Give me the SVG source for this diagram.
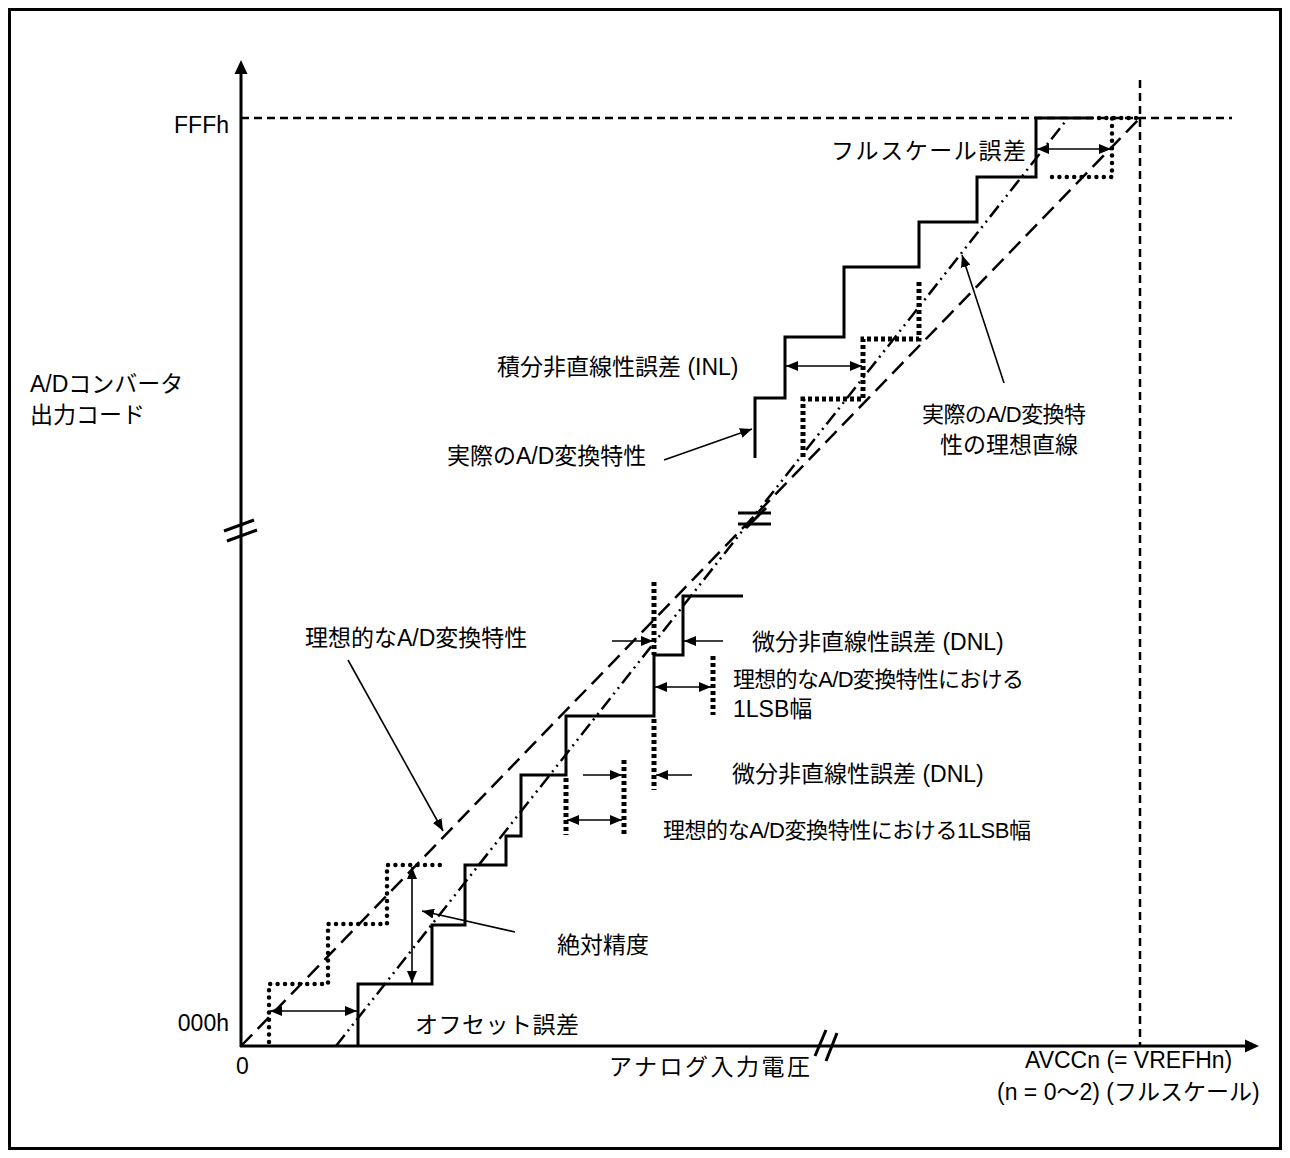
<svg xmlns="http://www.w3.org/2000/svg" width="1290" height="1158" viewBox="0 0 1290 1158">
<defs>
<style>
.t{font-family:"Liberation Sans","Noto Sans CJK JP",sans-serif;font-size:23px;fill:#000}
.s{font-size:22px}
.ax{stroke:#000;stroke-width:3;fill:none}
.st{stroke:#000;stroke-width:3;fill:none;stroke-linejoin:miter}
.rd{stroke:#000;stroke-width:4.5;fill:none;stroke-dasharray:0 7.4;stroke-linecap:round}
.sq{stroke:#000;stroke-width:5;fill:none;stroke-dasharray:4 3}
.dsh{stroke:#000;stroke-width:2.5;fill:none;stroke-dasharray:8 5}
.ideal{stroke:#000;stroke-width:2.5;fill:none;stroke-dasharray:16 8}
.dd{stroke:#000;stroke-width:2.5;fill:none;stroke-dasharray:14 5 2 5 2 5}
.ar{stroke:#000;stroke-width:1.6;fill:none}
</style>
<marker id="ah" viewBox="0 0 12 10" refX="12" refY="5" markerWidth="12" markerHeight="10" markerUnits="userSpaceOnUse" orient="auto-start-reverse">
<path d="M0,0 L12,5 L0,10 z" fill="#000"/>
</marker>
</defs>
<rect x="0" y="0" width="1290" height="1158" fill="#fff"/>
<rect id="frame" x="9.5" y="9.5" width="1271" height="1139" fill="none" stroke="#000" stroke-width="3"/>

<g id="axes">
<line class="ax" x1="241" y1="1047" x2="241" y2="72"/>
<polygon points="234.5,74 247.5,74 241,60" fill="#000"/>
<line class="ax" x1="240" y1="1046" x2="1246" y2="1046"/>
<polygon points="1245,1039.5 1245,1052.5 1259,1046" fill="#000"/>
<line x1="224" y1="531" x2="254" y2="520" stroke="#000" stroke-width="3"/>
<line x1="227" y1="541" x2="257" y2="530" stroke="#000" stroke-width="3"/>
<line x1="815" y1="1056" x2="826" y2="1030" stroke="#000" stroke-width="3"/>
<line x1="826" y1="1061" x2="837" y2="1033" stroke="#000" stroke-width="3"/>
<line class="dsh" x1="241" y1="118" x2="1232" y2="118"/>
<line class="dsh" x1="1140" y1="80" x2="1140" y2="1046"/>
</g>

<g id="reference-lines">
<line class="ideal" x1="241" y1="1046" x2="1140" y2="118"/>
<line class="dd" x1="336" y1="1046" x2="1068" y2="118"/>
<line x1="738" y1="513" x2="771" y2="513" stroke="#000" stroke-width="3"/>
<line x1="738" y1="524" x2="771" y2="524" stroke="#000" stroke-width="3"/>
<line x1="746" y1="528" x2="766" y2="508" stroke="#000" stroke-width="3"/>
</g>

<g id="actual-staircase">
<polyline class="st" points="358,1046 358,984 432,984 432,925 465,925 465,865 506,865 506,836 521,836 521,775 566,775 566,716 654,716 654,655 683,655 683,596 743,596"/>
<polyline class="st" points="755,458 755,398 785,398 785,337 844,337 844,267 919,267 919,222 977,222 977,177 1036,177 1036,118 1093,118"/>
</g>

<g id="ideal-staircase">
<polyline class="rd" points="269,1042 269,984 328,984 328,924 387,924 387,865 443,865"/>
<polyline class="rd" points="1052,177 1112,177 1112,118"/>
<line class="rd" x1="1099" y1="118" x2="1137" y2="118"/>
<polyline class="sq" points="803,457 803,399 863,399 863,339 919,339 919,280"/>
<line class="sq" x1="566" y1="778" x2="566" y2="835"/>
<line class="sq" x1="624" y1="760" x2="624" y2="835"/>
<line class="sq" x1="654" y1="582" x2="654" y2="655"/>
<line class="sq" x1="654" y1="719" x2="654" y2="790"/>
<line class="sq" x1="713" y1="656" x2="713" y2="715"/>
</g>

<g id="connectors">
<line class="ar" x1="1037" y1="149" x2="1111" y2="149" marker-start="url(#ah)" marker-end="url(#ah)"/>
<line class="ar" x1="786" y1="366" x2="862" y2="366" marker-start="url(#ah)" marker-end="url(#ah)"/>
<line class="ar" x1="612" y1="641" x2="653" y2="641" marker-end="url(#ah)"/>
<line class="ar" x1="723" y1="641" x2="684" y2="641" marker-end="url(#ah)"/>
<line class="ar" x1="655" y1="687" x2="711" y2="687" marker-start="url(#ah)" marker-end="url(#ah)"/>
<line class="ar" x1="583" y1="775" x2="622" y2="775" marker-end="url(#ah)"/>
<line class="ar" x1="692" y1="775" x2="656" y2="775" marker-end="url(#ah)"/>
<line class="ar" x1="567" y1="820" x2="622" y2="820" marker-start="url(#ah)" marker-end="url(#ah)"/>
<line class="ar" x1="412" y1="867" x2="412" y2="983" marker-start="url(#ah)" marker-end="url(#ah)"/>
<line class="ar" x1="270" y1="1011" x2="357" y2="1011" marker-start="url(#ah)" marker-end="url(#ah)"/>
<line class="ar" x1="348" y1="660" x2="443" y2="831" marker-end="url(#ah)"/>
<line class="ar" x1="515" y1="932" x2="422" y2="911" marker-end="url(#ah)"/>
<line class="ar" x1="664" y1="460" x2="752" y2="429" marker-end="url(#ah)"/>
<line class="ar" x1="1004" y1="383" x2="962" y2="255" marker-end="url(#ah)"/>
</g>

<g id="labels">
<text class="t" x="229" y="133" text-anchor="end">FFFh</text>
<text class="t" x="229" y="1031" text-anchor="end">000h</text>
<text class="t" x="236" y="1074">0</text>
<text class="t" x="609" y="1075" textLength="201" lengthAdjust="spacing">アナログ入力電圧</text>
<text class="t" x="1025" y="1068">AVCCn (= VREFHn)</text>
<text class="t" x="997" y="1100">(n = 0〜2) (フルスケール)</text>
<text class="t" x="30" y="392">A/Dコンバータ</text>
<text class="t" x="30" y="423">出力コード</text>
<text class="t" x="831" y="159" textLength="195" lengthAdjust="spacing">フルスケール誤差</text>
<text class="t" x="497" y="375">積分非直線性誤差 (INL)</text>
<text class="t" x="447" y="464">実際のA/D変換特性</text>
<text class="t s" x="922" y="422" textLength="164" lengthAdjust="spacing">実際のA/D変換特</text>
<text class="t" x="940" y="453">性の理想直線</text>
<text class="t" x="305" y="646">理想的なA/D変換特性</text>
<text class="t" x="752" y="650">微分非直線性誤差 (DNL)</text>
<text class="t s" x="733" y="687" textLength="291" lengthAdjust="spacing">理想的なA/D変換特性における</text>
<text class="t" x="733" y="717">1LSB幅</text>
<text class="t" x="732" y="782">微分非直線性誤差 (DNL)</text>
<text class="t s" x="663" y="838" textLength="368" lengthAdjust="spacing">理想的なA/D変換特性における1LSB幅</text>
<text class="t" x="557" y="953">絶対精度</text>
<text class="t" x="415" y="1033" textLength="164" lengthAdjust="spacing">オフセット誤差</text>
</g>
</svg>
